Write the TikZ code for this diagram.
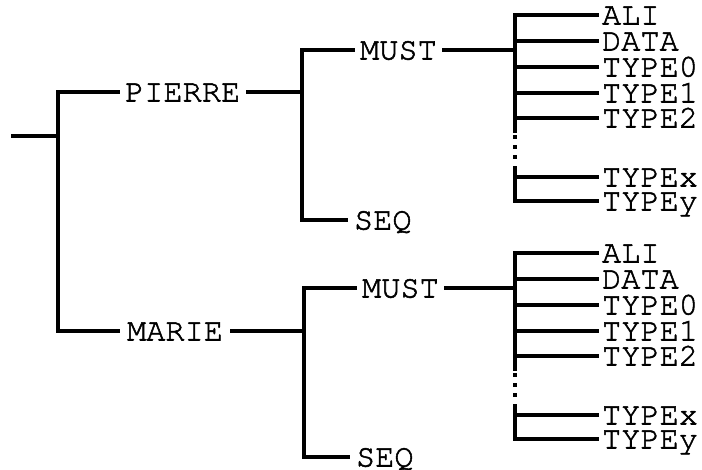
\documentclass[tikz,border=0pt]{standalone}
\usepackage{fontspec}
\setmonofont{TeX Gyre Cursor}[FakeBold=1.6]
\begin{document}
\begin{tikzpicture}[x=1pt,y=-1pt,
  br/.style={line width=3.2pt,line cap=rect},
  dotv/.style={line width=3.6pt,line cap=butt},
  lbl/.style={font=\ttfamily\fontsize{32}{32}\selectfont,inner sep=0pt,outer xsep=7pt,text height=19pt,text depth=0pt,anchor=west},
  leaf/.style={lbl,outer xsep=5pt}]
\useasboundingbox (0,0) rectangle (702,469);
% bracket positions
\coordinate (r0) at (13,136);
\coordinate (b1) at (58,136);
\coordinate (b1t) at (58,92);
\coordinate (b1b) at (58,331);
% level 1 labels
\node[lbl] (pierre) at (118,92) {PIERRE};
\node[lbl,outer xsep=9pt] (marie) at (118,331) {MARIE};
\coordinate (b2t) at (302,50);
\coordinate (b2b) at (302,220);
\coordinate (b3t) at (304,288);
\coordinate (b3b) at (304,457);
\node[lbl] (must1) at (353,50) {MUST};
\node[lbl,outer xsep=8pt] (seq1) at (346,220) {SEQ};
\node[lbl] (must2) at (355,288) {MUST};
\node[lbl,outer xsep=8pt] (seq2) at (348,457) {SEQ};
\draw[br] (r0) -- (b1);
\draw[br] (b1t) -- (b1b);
\draw[br] (b1t) -- (pierre.west);
\draw[br] (b1b) -- (marie.west);
\draw[br] (pierre.east) -- (b2t |- pierre.east);
\draw[br] (marie.east) -- (b3t |- marie.east);
\draw[br] (b2t) -- (b2b);
\draw[br] (b3t) -- (b3b);
\draw[br] (b2t) -- (must1.west);
\draw[br] (b2b) -- (seq1.west);
\draw[br] (b3t) -- (must2.west);
\draw[br] (b3b) -- (seq2.west);
% leaf brackets
\foreach \nm/\off in {u/0,l/238}{
  \coordinate (\nm t) at (515,15+\off);
  \coordinate (\nm a) at (515,131+\off);
  \coordinate (\nm c) at (515,135+\off);
  \coordinate (\nm e) at (515,168+\off);
  \coordinate (\nm b) at (515,201+\off);
  \node[leaf] (\nm ali) at (597,15+\off) {ALI};
  \node[leaf] (\nm data) at (597,41+\off) {DATA};
  \node[leaf] (\nm t0) at (597,67+\off) {TYPE0};
  \node[leaf] (\nm t1) at (597,93+\off) {TYPE1};
  \node[leaf] (\nm t2) at (597,118+\off) {TYPE2};
  \node[leaf] (\nm tx) at (597,177+\off) {TYPEx};
  \node[leaf] (\nm ty) at (597,201+\off) {TYPEy};
  \draw[br] (\nm t) -- (\nm a);
  \foreach \i in {0,1,2}{
    \draw[dotv] ([yshift=-\i*10pt]\nm c) -- ([yshift=-\i*10pt-4pt]\nm c);
  }
  \draw[br] (\nm e) -- (\nm b);
  \foreach \k in {ali,data,t0,t1,t2,tx,ty}{
    \draw[br] (\nm t |- \nm\k.west) -- (\nm\k.west);
  }
}
\draw[br] (must1.east) -- (ut |- must1.east);
\draw[br] (must2.east) -- (lt |- must2.east);
\end{tikzpicture}
\end{document}
